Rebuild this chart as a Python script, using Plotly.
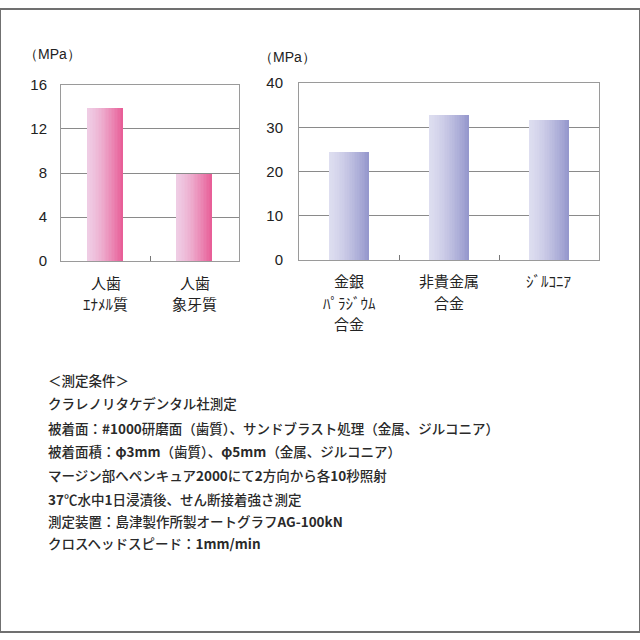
import plotly.graph_objects as go

# ---- data ----
tooth_categories = ["人歯 ｴﾅﾒﾙ質", "人歯 象牙質"]
tooth_label_lines = [["人歯", "ｴﾅﾒﾙ質"], ["人歯", "象牙質"]]
tooth_values = [13.9, 7.9]
alloy_categories = ["金銀ﾊﾟﾗｼﾞｳﾑ合金", "非貴金属合金", "ｼﾞﾙｺﾆｱ"]
alloy_label_lines = [["金銀", "ﾊﾟﾗｼﾞｳﾑ", "合金"], ["非貴金属", "合金"], ["ｼﾞﾙｺﾆｱ"]]
alloy_values = [24.4, 32.8, 31.6]
tooth_ticks = [0, 4, 8, 12, 16]
alloy_ticks = [0, 10, 20, 30, 40]
unit_label = "（MPa）"
notes = [
    "＜測定条件＞",
    "クラレノリタケデンタル社測定",
    "被着面：<b>#1000</b>研磨面（歯質）、サンドブラスト処理（金属、ジルコニア）",
    "被着面積：<b>φ3mm</b>（歯質）、<b>φ5mm</b>（金属、ジルコニア）",
    "マージン部へペンキュア<b>2000</b>にて<b>2</b>方向から各<b>10</b>秒照射",
    "<b>37</b>℃水中<b>1</b>日浸漬後、せん断接着強さ測定",
    "測定装置：島津製作所製オートグラフ<b>AG-100kN</b>",
    "クロスヘッドスピード：<b>1mm/min</b>",
]

JP = "Noto Sans CJK JP"
NUM = "Liberation Sans, Arial"

fig = go.Figure()


def lerp(c0, c1, t):
    return "rgb(%d,%d,%d)" % tuple(round(a + (b - a) * t) for a, b in zip(c0, c1))


def gradient_bars(cats, vals, c0, c1, xa, ya, width=0.4, n=24):
    step = width / n
    for i in range(n):
        t = (i + 0.5) / n
        tt = t ** 1.4
        fig.add_trace(go.Bar(
            x=cats, y=vals, xaxis=xa, yaxis=ya,
            width=step * 1.05, offset=-width / 2 + i * step,
            marker=dict(color=lerp(c0, c1, tt), line=dict(width=0)),
            showlegend=False, hoverinfo="skip",
        ))


gradient_bars(tooth_categories, tooth_values, (239, 204, 228), (232, 92, 150), "x", "y")
gradient_bars(alloy_categories, alloy_values, (222, 222, 240), (148, 150, 204), "x2", "y2")

W = H = 640


def px(x):
    return x / W


def py(y):
    return 1 - y / H


axis_common = dict(
    showline=True, mirror=True, linecolor="#9a9a9a", linewidth=1,
    zeroline=False,
)

fig.update_layout(
    width=W, height=H, margin=dict(l=0, r=0, t=0, b=0),
    paper_bgcolor="white", plot_bgcolor="white",
    barmode="overlay", bargap=0,
    xaxis=dict(domain=[px(61), px(239)], anchor="y", type="category",
               ticks="inside", tickson="boundaries", ticklen=5, tickcolor="#777",
               showgrid=False, showticklabels=False, **axis_common),
    yaxis=dict(domain=[py(259), py(78)], anchor="x", range=[0, 16],
               tickvals=tooth_ticks, showgrid=True, gridcolor="#8a8a8a", gridwidth=1,
               ticks="", ticklabelstandoff=10,
               tickfont=dict(family=NUM, size=15, color="#222"), **axis_common),
    xaxis2=dict(domain=[px(299), px(599)], anchor="y2", type="category",
                ticks="inside", tickson="boundaries", ticklen=5, tickcolor="#777",
                showgrid=False, showticklabels=False, **axis_common),
    yaxis2=dict(domain=[py(258), py(76)], anchor="x2", range=[0, 40],
                tickvals=alloy_ticks, showgrid=True, gridcolor="#8a8a8a", gridwidth=1,
                ticks="", ticklabelstandoff=12,
                tickfont=dict(family=NUM, size=15, color="#222"), **axis_common),
)

annotations = [
    dict(text=unit_label, x=px(22), y=py(46), xref="paper", yref="paper",
         xanchor="left", yanchor="middle", showarrow=False,
         font=dict(family=NUM, size=14, color="#222")),
    dict(text=unit_label, x=px(257), y=py(49), xref="paper", yref="paper",
         xanchor="left", yanchor="middle", showarrow=False,
         font=dict(family=NUM, size=14, color="#222")),
]

# category labels (one annotation per line)
for xa, cats, lines_list, y0 in [("x", tooth_categories, tooth_label_lines, 281),
                                 ("x2", alloy_categories, alloy_label_lines, 279)]:
    for cat, lines in zip(cats, lines_list):
        for j, ln in enumerate(lines):
            annotations.append(dict(text=ln, x=cat, xref=xa, y=py(y0 + 22 * j), yref="paper",
                                    xanchor="center", yanchor="middle", showarrow=False,
                                    borderpad=0,
                                    font=dict(family=JP, size=15, color="#222")))

note_y = [381, 405, 430, 454, 479, 503, 526, 549]
for txt, yy in zip(notes, note_y):
    annotations.append(dict(text=txt, x=px(46), y=py(yy), xref="paper", yref="paper",
                            xanchor="left", yanchor="middle", showarrow=False,
                            font=dict(family=JP, size=13.5, color="#2a2a2a", weight=500)))
fig.update_layout(annotations=annotations)

fig.add_shape(type="rect", xref="paper", yref="paper", x0=0, x1=1, y0=0, y1=1,
              line=dict(color="#707070", width=2), fillcolor="rgba(0,0,0,0)")

fig.write_html("out.html")
